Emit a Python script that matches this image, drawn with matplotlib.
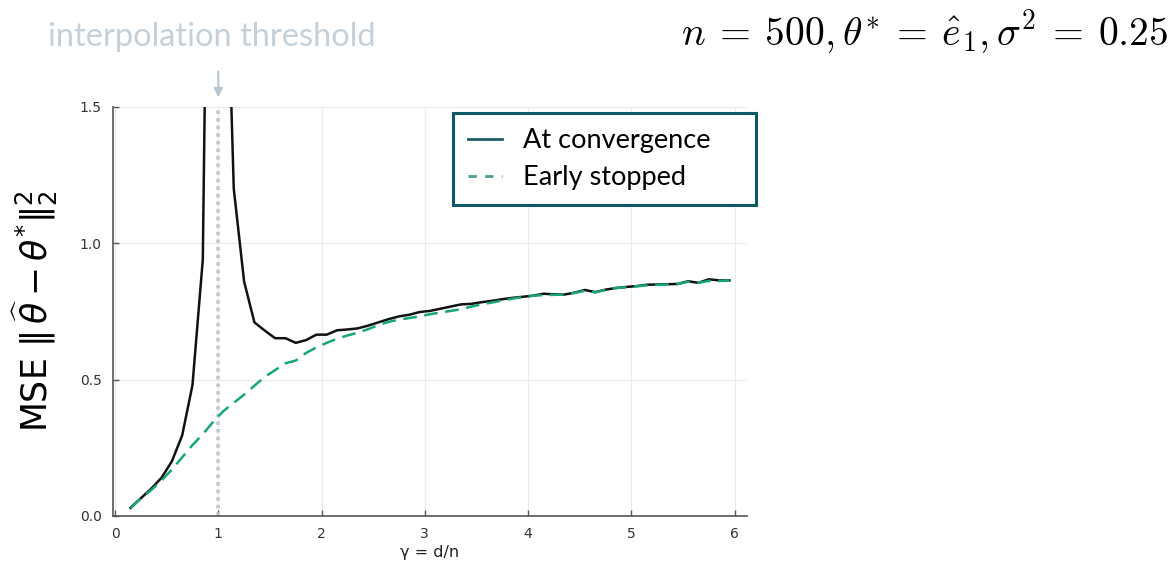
import numpy as np
import matplotlib.pyplot as plt
from matplotlib.lines import Line2D

# gamma = d/n grid
gamma = [0.15, 0.25, 0.35, 0.45, 0.55, 0.65, 0.75, 0.85, 0.95, 1.05,
         1.15, 1.25, 1.35, 1.45, 1.55, 1.65, 1.75, 1.85, 1.95, 2.05,
         2.15, 2.25, 2.35, 2.45, 2.55, 2.65, 2.75, 2.85, 2.95, 3.05,
         3.15, 3.25, 3.35, 3.45, 3.55, 3.65, 3.75, 3.85, 3.95, 4.05,
         4.15, 4.25, 4.35, 4.45, 4.55, 4.65, 4.75, 4.85, 4.95, 5.05,
         5.15, 5.25, 5.35, 5.45, 5.55, 5.65, 5.75, 5.85, 5.95]

# MSE of the min-norm solution at convergence
mse_converged = [0.030, 0.065, 0.100, 0.140, 0.200, 0.295, 0.480, 0.940, 4.000, 2.500,
                 1.200, 0.860, 0.710, 0.680, 0.652, 0.652, 0.635, 0.645, 0.665, 0.665,
                 0.681, 0.684, 0.688, 0.698, 0.710, 0.722, 0.732, 0.738, 0.748, 0.752,
                 0.760, 0.768, 0.776, 0.778, 0.784, 0.789, 0.795, 0.800, 0.804, 0.808,
                 0.815, 0.813, 0.812, 0.819, 0.829, 0.821, 0.830, 0.836, 0.840, 0.843,
                 0.848, 0.849, 0.850, 0.851, 0.861, 0.855, 0.868, 0.864, 0.864]

# MSE with early stopping
mse_early = [0.028, 0.065, 0.095, 0.130, 0.170, 0.215, 0.260, 0.300, 0.345, 0.385,
             0.415, 0.445, 0.478, 0.510, 0.535, 0.560, 0.570, 0.598, 0.618, 0.635,
             0.650, 0.662, 0.672, 0.685, 0.700, 0.712, 0.720, 0.726, 0.732, 0.740,
             0.746, 0.752, 0.758, 0.768, 0.776, 0.783, 0.790, 0.797, 0.803, 0.808,
             0.810, 0.811, 0.812, 0.818, 0.826, 0.820, 0.829, 0.836, 0.839, 0.842,
             0.846, 0.848, 0.849, 0.851, 0.859, 0.855, 0.862, 0.862, 0.864]

threshold = 1.0
labels = ['At convergence', 'Early stopped']

fig = plt.figure(figsize=(11.73, 5.63), dpi=100)
ax = fig.add_axes([0.0963, 0.0835, 0.5405, 0.7265])

ax.plot(gamma, mse_converged, color='#111111', lw=1.8, zorder=3)
ax.plot(gamma, mse_early, color='#17a67c', lw=1.8, dashes=(5.5, 3), zorder=4)
ax.axvline(threshold, color='#bccad5', lw=2.6, ls=(0, (1, 1.1)), zorder=2)

ax.set_xlim(-0.02, 6.12)
ax.set_ylim(0, 1.5)
ax.set_xticks([0, 1, 2, 3, 4, 5, 6])
ax.set_yticks([0.0, 0.5, 1.0, 1.5])
ax.set_yticklabels(['0.0', '0.5', '1.0', '1.5'])
ax.grid(True, color='#ebebeb', lw=0.8)
ax.set_axisbelow(True)
for s in ['top', 'right']:
    ax.spines[s].set_visible(False)
for s in ['left', 'bottom']:
    ax.spines[s].set_color('#555555')
    ax.spines[s].set_linewidth(1.2)
ax.tick_params(direction='in', length=4, width=1, color='#555555',
               labelsize=10, labelcolor='#333333', pad=8)

ax.set_xlabel(r'γ = d/n', fontsize=11.5, color='#222222', labelpad=3)
ax.set_ylabel(r'MSE $\|\,\widehat{\theta} - \theta^{*}\|_2^2$', fontsize=25, labelpad=14)

# legend with its own teal styling, stretched to a fixed box width
handles = [Line2D([], [], color='#1d5e69', lw=2),
           Line2D([], [], color='#4a9d90', lw=2, dashes=(3, 3))]
leg = ax.legend(handles, labels, loc='upper left', mode='expand',
                bbox_to_anchor=(0.536, 0, 0.478, 0.985),
                prop={'family': 'Lato', 'size': 19.5}, frameon=True, fancybox=False,
                framealpha=1, handlelength=1.25, handletextpad=0.8, borderpad=0.55,
                labelspacing=0.45, borderaxespad=0)
leg.get_frame().set_edgecolor('#0d5a66')
leg.get_frame().set_linewidth(2.2)

# threshold annotation above the axes
ax.annotate('', xy=(threshold, 1.525), xytext=(threshold, 1.64),
            xycoords='data', textcoords='data', annotation_clip=False,
            arrowprops=dict(arrowstyle='-|>', color='#b8c6d1', lw=1.5, mutation_scale=13))
fig.text(48 / 1173, 1 - 37 / 563, 'interpolation threshold', family='Lato',
         fontsize=23.5, color='#c5d0d9', ha='left', va='center')

fig.text(1168 / 1173, 1 - 33 / 563,
         r'$n \:=\: 500, \theta^{*} \:=\: \hat{e}_1, \sigma^2 \:=\: 0.25$',
         fontsize=28.5, ha='right', va='center', math_fontfamily='cm')

fig.savefig('out.png', dpi=100)
